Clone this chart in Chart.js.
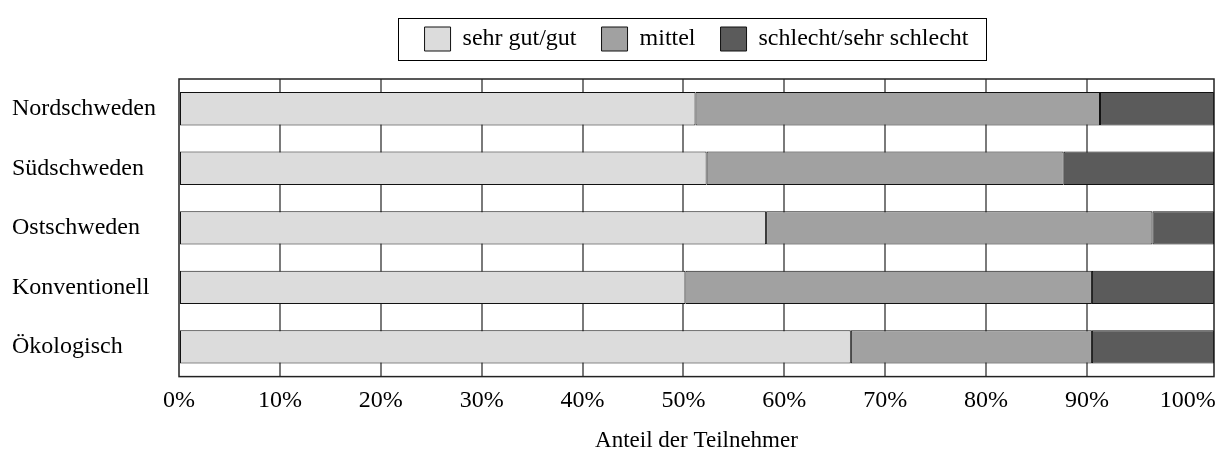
<!DOCTYPE html>
<html>
<head>
<meta charset="utf-8">
<script src="https://cdn.jsdelivr.net/npm/chart.js@4"></script>
<style>
  html, body { margin: 0; padding: 0; background: #fff; }
  #wrap { width: 1216px; height: 449px; }
</style>
</head>
<body>
<div id="wrap"><canvas id="qualityChart"></canvas></div>
<script>
const categories = ['Nordschweden', 'Südschweden', 'Ostschweden', 'Konventionell', 'Ökologisch'];
const sehrGutGut = [51.2, 52.3, 58.2, 50.2, 66.6];
const mittel = [40.1, 35.4, 38.3, 40.3, 23.9];
const schlecht = [11.3, 14.9, 6.1, 12.1, 12.1];
const tickValues = [0, 10, 20, 30, 40, 50, 60, 70, 80, 90, 100];
const axisMax = 102.6;

const serif = 'Liberation Serif, Times New Roman, serif';

// extra room under the legend
const legendSpacer = {
  id: 'legendSpacer',
  beforeInit(chart) {
    const fit = chart.legend.fit;
    chart.legend.fit = function () {
      fit.bind(chart.legend)();
      this.height += 18;
    };
  }
};

// frame round the plot and box round the legend
const framePlugin = {
  id: 'frame',
  afterDraw(chart) {
    const { ctx, chartArea: a, legend } = chart;
    ctx.save();
    ctx.strokeStyle = '#222';
    ctx.lineWidth = 1.5;
    ctx.strokeRect(a.left, a.top, a.right - a.left, a.bottom - a.top);
    const boxes = legend.legendHitBoxes;
    if (boxes && boxes.length) {
      const first = boxes[0], last = boxes[boxes.length - 1];
      const x0 = Math.round(first.left - 27), x1 = Math.round(last.left + last.width + 18);
      const y0 = Math.round(first.top - 9), y1 = Math.round(first.top + first.height + 9);
      ctx.strokeStyle = '#000';
      ctx.lineWidth = 1;
      ctx.strokeRect(x0 + 0.5, y0 + 0.5, x1 - x0, y1 - y0);
    }
    ctx.restore();
  }
};

const ctx = document.getElementById('qualityChart').getContext('2d');

const qualityChart = new Chart(ctx, {
  type: 'bar',
  data: {
    labels: categories,
    datasets: [
      { label: 'sehr gut/gut', data: sehrGutGut, backgroundColor: '#dcdcdc' },
      { label: 'mittel', data: mittel, backgroundColor: '#a1a1a1' },
      { label: 'schlecht/sehr schlecht', data: schlecht, backgroundColor: '#5b5b5b' }
    ]
  },
  options: {
    indexAxis: 'y',
    responsive: true,
    maintainAspectRatio: false,
    animation: false,
    datasets: {
      bar: {
        borderColor: '#111',
        borderWidth: 1,
        borderSkipped: false,
        categoryPercentage: 1,
        barPercentage: 0.56
      }
    },
    layout: { padding: { left: 12, right: 2, top: 2, bottom: -6 } },
    plugins: {
      legend: {
        position: 'top',
        fullSize: false,
        labels: {
          color: '#000',
          font: { family: serif, size: 24 },
          boxWidth: 26,
          boxHeight: 24,
          padding: 25
        }
      },
      tooltip: { enabled: false }
    },
    scales: {
      x: {
        stacked: true,
        min: 0,
        max: axisMax,
        afterBuildTicks(scale) {
          scale.ticks = tickValues.map(v => ({ value: v }));
        },
        afterFit(scale) {
          scale.paddingRight = 0;
        },
        ticks: {
          color: '#000',
          font: { family: serif, size: 24 },
          padding: 10,
          maxRotation: 0,
          callback: v => v + '%'
        },
        grid: {
          drawTicks: false,
          lineWidth: 2,
          color: c => (c.tick && (c.tick.value === 0 || c.tick.value === 100)) ? 'rgba(0,0,0,0)' : '#7a7a7a'
        },
        border: { display: false },
        title: {
          display: true,
          text: 'Anteil der Teilnehmer',
          color: '#000',
          font: { family: serif, size: 23 },
          padding: { top: 2, bottom: 0 }
        }
      },
      y: {
        stacked: true,
        afterFit(scale) {
          scale.width = 167;
        },
        ticks: {
          color: '#000',
          font: { family: serif, size: 24 },
          crossAlign: 'far',
          padding: 24
        },
        grid: { display: false, drawTicks: false },
        border: { display: false }
      }
    }
  },
  plugins: [legendSpacer, framePlugin]
});
</script>
</body>
</html>
